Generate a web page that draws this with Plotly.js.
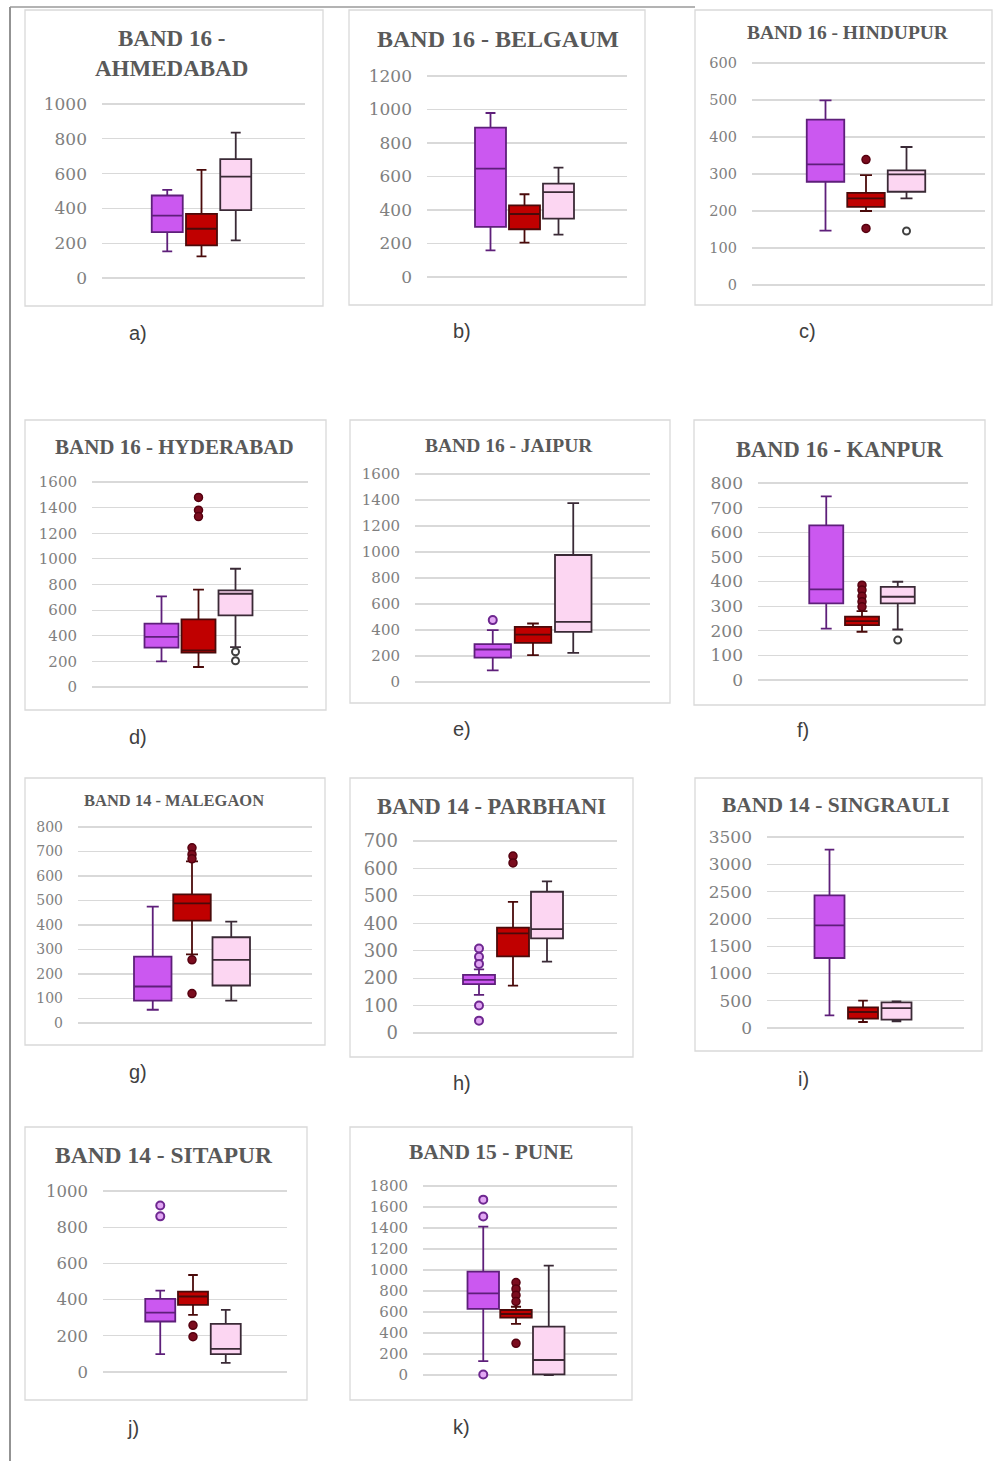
<!DOCTYPE html>
<html><head><meta charset="utf-8">
<script src="https://cdn.plot.ly/plotly-3.0.1.min.js"></script>
<style>html,body{margin:0;padding:0;background:#fff}#chart{width:1004px;height:1461px}</style>
</head><body><div id="chart"></div>
<script>
// ---------------- DATA ----------------
const seriesKeys = ['S1', 'S2', 'S3'];
const panelTitles = ['BAND 16 -<br>AHMEDABAD', 'BAND 16 - BELGAUM', 'BAND 16 - HINDUPUR',
  'BAND 16 - HYDERABAD', 'BAND 16 - JAIPUR', 'BAND 16 - KANPUR',
  'BAND 14 - MALEGAON', 'BAND 14 - PARBHANI', 'BAND 14 - SINGRAULI',
  'BAND 14 - SITAPUR', 'BAND 15 - PUNE'];
const panelLetters = ['a)', 'b)', 'c)', 'd)', 'e)', 'f)', 'g)', 'h)', 'i)', 'j)', 'k)'];
const yMax = [1000, 1200, 600, 1600, 1600, 800, 800, 700, 3500, 1000, 1800];
const yStep = [200, 200, 100, 200, 200, 100, 100, 100, 500, 200, 200];

const lowerFence = [[153,124,216],[159,205,253],[147,200,234],[200,156,312],[90,206,224],[209,196,205],[54,280,91],[139,173,260],[232,110,122],[99,316,50],[133,486,0]];
const q1Vals     = [[264,187,390],[299,285,348],[279,211,252],[307,268,559],[188,301,386],[311,223,311],[91,418,153],[178,279,345],[1283,171,153],[279,371,99],[629,546,6]];
const medianVals = [[359,283,583],[647,376,507],[326,234,299],[392,286,728],[250,365,463],[368,239,338],[149,488,258],[194,363,379],[1882,293,366],[328,417,128],[778,581,143]];
const q3Vals     = [[474,369,683],[892,428,557],[447,249,310],[494,528,754],[291,424,977],[628,257,378],[271,525,350],[212,384,515],[2431,379,470],[404,444,266],[984,619,460]];
const upperFence = [[507,621,836],[979,494,653],[499,297,373],[708,760,923],[399,450,1376],[746,280,399],[475,660,414],[232,478,553],[3268,501,489],[450,536,343],[1413,650,1041]];
const outliers = [
  [[], [], []],
  [[], [], []],
  [[], [339, 153], [146]],
  [[], [1480, 1380, 1330], [275, 205]],
  [[476], [], []],
  [[], [385, 365, 340, 318, 297], [162]],
  [[], [715, 688, 670, 258, 120], []],
  [[308, 278, 252, 100, 45], [645, 620], []],
  [[], [], []],
  [[920, 860], [258, 195], []],
  [[1670, 1510, 5], [880, 820, 760, 700, 302], []]
];

// ---------------- LAYOUT GEOMETRY (pixels) ----------------
const W = 1004, H = 1461;
const plotL = [102, 427, 752, 92, 415, 758, 78, 413, 767, 103, 423];
const plotR = [305, 627, 985, 308, 650, 968, 312, 617, 964, 287, 617];
const plotT = [104, 76, 63, 482, 474, 483, 827, 841, 837, 1191, 1186];
const plotB = [278, 277, 285, 687, 682, 680, 1023, 1033, 1028, 1372, 1375];
const boxMid = [201.5, 524.5, 866, 198.5, 533, 862, 192, 513, 863, 193, 516];
const boxSp = [34.25, 34, 40.5, 37, 40.25, 35.75, 39.25, 34, 33.5, 32.75, 32.75];
const boxWpx = [31, 31, 37.5, 34, 36.5, 34, 37.5, 32, 30, 30, 31.5];
const frameL = [25, 349, 695, 25, 350, 694, 25, 350, 695, 25, 350];
const frameR = [323, 645, 992, 326, 670, 985, 325, 633, 982, 307, 632];
const frameT = [10, 10, 10, 420, 420, 420, 778, 778, 778, 1127, 1127];
const frameB = [306, 305, 305, 710, 703, 705, 1045, 1057, 1051, 1400, 1400];
const titleX = [171.5, 497.5, 848, 174, 509, 840, 174, 491, 835.5, 164, 490.5];
const titleY = [53.5, 39, 33, 447, 445, 449, 800, 806, 805, 1155, 1152];
const titleSize = [23, 24, 19.5, 21, 19.5, 22.5, 16.5, 22.5, 21.5, 23.5, 21.5];
const tickSize = [17, 17, 14.5, 15, 15, 17, 14, 18, 17, 16.5, 15];
const letterX = [138, 462, 807, 138, 462, 803, 138, 462, 803, 133, 461];
const letterY = [333, 331, 331, 737, 729, 730, 1072, 1083, 1079, 1428, 1427];

const fills = ['#CB58F0', '#C00000', '#FCD6F2'];
const lines = ['#5E1F7A', '#4A0A0A', '#3A2A36'];
const outMarker = [
  {color: '#E2A6F4', size: 8, line: {color: '#6E2790', width: 2}},
  {color: '#7B0C1E', size: 8, line: {color: '#55000F', width: 1.5}},
  {color: '#FFFFFF', size: 7, line: {color: '#404040', width: 2}}
];

const fx = px => px / W;
const fy = py => 1 - py / H;

const data = [];
const layout = {
  width: W, height: H, margin: {l: 0, r: 0, t: 0, b: 0},
  paper_bgcolor: '#ffffff', plot_bgcolor: '#ffffff', showlegend: false,
  shapes: [], annotations: []
};

for (let i = 0; i < panelTitles.length; i++) {
  const ax = i === 0 ? '' : String(i + 1);
  const x0 = 1 + (plotL[i] - boxMid[i]) / boxSp[i];
  const x1 = 1 + (plotR[i] - boxMid[i]) / boxSp[i];
  const ph = plotB[i] - plotT[i];
  const pad = yMax[i] / ph * 1.5;
  layout['xaxis' + ax] = {
    domain: [fx(plotL[i]), fx(plotR[i])], anchor: 'y' + ax,
    type: 'category', categoryorder: 'array', categoryarray: seriesKeys,
    range: [x0, x1], showticklabels: false, showgrid: false, zeroline: false,
    showline: false, ticks: '', fixedrange: true
  };
  layout['yaxis' + ax] = {
    domain: [fy(plotB[i] + 1.5), fy(plotT[i] - 1.5)], anchor: 'x' + ax,
    range: [-pad, yMax[i] + pad], tick0: 0, dtick: yStep[i],
    showgrid: true, gridcolor: '#d9d9d9', gridwidth: 1.2, zeroline: false,
    showline: false, ticks: '', ticklabelstandoff: 14,
    tickfont: {family: 'DejaVu Serif', size: tickSize[i], color: '#808080'},
    fixedrange: true
  };
  for (let j = 0; j < 3; j++) {
    data.push({
      type: 'box', xaxis: 'x' + ax, yaxis: 'y' + ax,
      x: [seriesKeys[j]],
      q1: [q1Vals[i][j]], median: [medianVals[i][j]], q3: [q3Vals[i][j]],
      lowerfence: [lowerFence[i][j]], upperfence: [upperFence[i][j]],
      width: boxWpx[i] / boxSp[i], whiskerwidth: 0.32,
      fillcolor: fills[j], line: {color: lines[j], width: 1.8},
      boxpoints: false, hoverinfo: 'skip'
    });
    const pts = outliers[i][j];
    if (pts.length) {
      data.push({
        type: 'scatter', mode: 'markers', xaxis: 'x' + ax, yaxis: 'y' + ax,
        x: pts.map(() => seriesKeys[j]), y: pts,
        marker: outMarker[j], cliponaxis: false, hoverinfo: 'skip'
      });
    }
  }
  layout.shapes.push({
    type: 'rect', xref: 'paper', yref: 'paper', layer: 'below',
    x0: fx(frameL[i]), x1: fx(frameR[i]), y0: fy(frameB[i]), y1: fy(frameT[i]),
    line: {color: '#d9d9d9', width: 1.3}, fillcolor: 'rgba(0,0,0,0)'
  });
  layout.annotations.push({
    xref: 'paper', yref: 'paper', x: fx(titleX[i]), y: fy(titleY[i]),
    xanchor: 'center', yanchor: 'middle', showarrow: false,
    text: panelTitles[i],
    font: {family: 'Liberation Serif', size: titleSize[i], color: '#595959', weight: 700}
  });
  layout.annotations.push({
    xref: 'paper', yref: 'paper', x: fx(letterX[i]), y: fy(letterY[i]),
    xanchor: 'center', yanchor: 'middle', showarrow: false,
    text: panelLetters[i],
    font: {family: 'Liberation Sans', size: 20, color: '#404040'}
  });
}

// outer figure border lines (left edge and top edge of scan)
layout.shapes.push({type: 'line', xref: 'paper', yref: 'paper',
  x0: fx(10), x1: fx(10), y0: fy(1461), y1: fy(7), line: {color: '#6f6f6f', width: 1.5}});
layout.shapes.push({type: 'line', xref: 'paper', yref: 'paper',
  x0: fx(10), x1: fx(695), y0: fy(7), y1: fy(7), line: {color: '#9a9a9a', width: 1.5}});

Plotly.newPlot('chart', data, layout, {staticPlot: true, displayModeBar: false});
</script>
</body></html>
